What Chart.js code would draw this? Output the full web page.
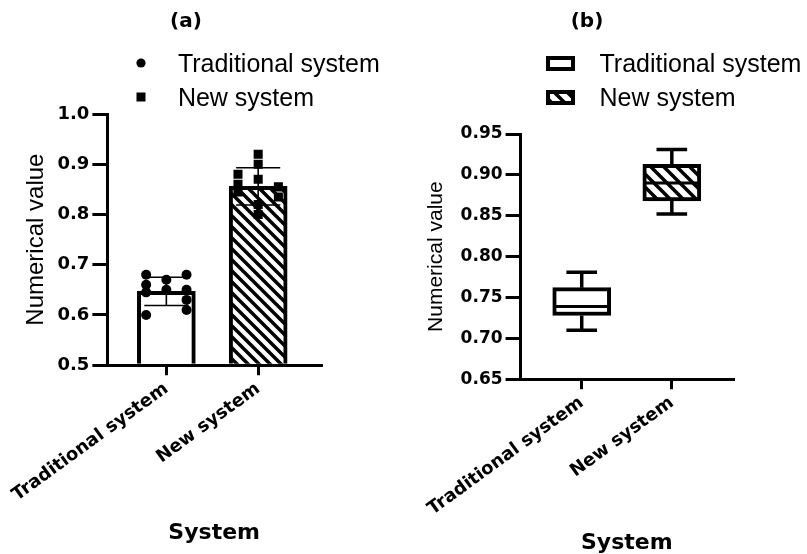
<!DOCTYPE html>
<html>
<head>
<meta charset="utf-8">
<script src="https://cdn.jsdelivr.net/npm/chart.js@4.4.1/dist/chart.umd.min.js"></script>
<style>
  html, body { margin: 0; padding: 0; background: #fff; overflow: hidden; }
  #page { position: relative; width: 807px; height: 554px; overflow: hidden; }
  canvas.plot { position: absolute; top: 0; }
  #chartA { left: -28px; }
  #chartB { left: 367px; }
  .panel-title {
    position: absolute; top: 20px; transform: translate(-50%, -50%);
    font: bold 20px 'DejaVu Sans', sans-serif; color: #000; white-space: nowrap;
  }
  ul.legend {
    position: absolute; top: 46px; margin: 0; padding: 0; list-style: none;
    font: 25px 'Liberation Sans', Arial, sans-serif; color: #000; white-space: nowrap;
  }
  ul.legend li { display: flex; align-items: center; height: 34px; }
  ul.legend .mark { display: flex; justify-content: center; align-items: center; margin-right: 12.5px; }
</style>
</head>
<body>
<div id="page">
  <canvas id="chartA" class="plot" width="428" height="554"></canvas>
  <canvas id="chartB" class="plot" width="440" height="554"></canvas>
  <div class="panel-title" style="left:186px">(a)</div>
  <div class="panel-title" style="left:587px">(b)</div>
  <ul id="legendA" class="legend"></ul>
  <ul id="legendB" class="legend"></ul>
</div>
<script>
const systems = ['Traditional system', 'New system'];

// (a) individual measurements (column = which side of the bar the dot sits on)
const traditionalValues = [0.68, 0.66, 0.645, 0.60, 0.67, 0.65, 0.68, 0.65, 0.63, 0.61];
const traditionalColumn = [-1, -1, -1, -1, 0, 0, 1, 1, 1, 1];
const newValues = [0.88, 0.86, 0.845, 0.92, 0.90, 0.87, 0.82, 0.80, 0.835, 0.855];
const newColumn = [-1, -1, -1, 0, 0, 0, 0, 0, 1, 1];
const barMeans = [0.647, 0.856];
const barSD = [0.028, 0.037];
const yTicksA = [0.5, 0.6, 0.7, 0.8, 0.9, 1.0];

// (b) box plot
const boxMin = [0.710, 0.852];
const boxQ1 = [0.728, 0.868];
const boxMedian = [0.739, 0.890];
const boxQ3 = [0.762, 0.913];
const boxMax = [0.781, 0.931];
const yTicksB = [0.65, 0.70, 0.75, 0.80, 0.85, 0.90, 0.95];

const SANS = "'Liberation Sans', Arial, sans-serif";
const BOLD = "'DejaVu Sans', sans-serif";
const SPREAD = 0.22;

Chart.defaults.color = '#000';
Chart.defaults.font.family = SANS;

function hatchPattern(size, width) {
  const tile = document.createElement('canvas');
  tile.width = tile.height = size;
  const g = tile.getContext('2d');
  g.fillStyle = '#fff';
  g.fillRect(0, 0, size, size);
  g.strokeStyle = '#000';
  g.lineWidth = width;
  g.beginPath();
  g.moveTo(-width, -width); g.lineTo(size + width, size + width);
  g.moveTo(-width, size - width); g.lineTo(width, size + width);
  g.moveTo(size - width, -width); g.lineTo(size + width, width);
  g.stroke();
  return g.createPattern(tile, 'repeat');
}

function icon(w, h, draw) {
  const c = document.createElement('canvas');
  c.width = w;
  c.height = h;
  draw(c.getContext('2d'));
  return c;
}

const hatchA = hatchPattern(11, 3.5);
const hatchB = hatchPattern(13, 3.5);

const iconsA = [
  icon(12, 12, g => { g.fillStyle = '#000'; g.beginPath(); g.arc(6, 6, 4.6, 0, Math.PI * 2); g.fill(); }),
  icon(12, 12, g => { g.fillStyle = '#000'; g.fillRect(1.5, 1.5, 9, 9); }),
];
const iconsB = ['#fff', hatchB].map(fill => icon(40, 17, g => {
  g.fillStyle = fill;
  g.fillRect(10, 3, 25, 11);
  g.strokeStyle = '#000';
  g.lineWidth = 4;
  g.strokeRect(10, 3, 25, 11);
}));

// legend items are built by Chart.js (generateLabels) and rendered as an html list
const htmlLegend = {
  id: 'htmlLegend',
  afterUpdate(c, args, options) {
    const ul = document.getElementById(options.containerID);
    if (!ul) return;
    while (ul.firstChild) {
      ul.firstChild.remove();
    }
    ul.style.left = (c.canvas.offsetLeft + c.chartArea.left + 9) + 'px';
    const items = c.options.plugins.legend.labels.generateLabels(c);
    items.forEach((item) => {
      const li = document.createElement('li');
      const mark = document.createElement('span');
      mark.className = 'mark';
      mark.style.width = options.markWidth + 'px';
      mark.appendChild(item.pointStyle);
      const label = document.createElement('span');
      label.appendChild(document.createTextNode(item.text));
      li.appendChild(mark);
      li.appendChild(label);
      ul.appendChild(li);
    });
  },
};

function legendOpts(icons) {
  return {
    display: false,
    labels: {
      generateLabels: () => systems.map((name, i) => ({ text: name, pointStyle: icons[i], hidden: false, datasetIndex: i })),
    },
  };
}

function yAxis(ticks, digits, tickSize, titleSize, titlePad) {
  return {
    min: ticks[0],
    max: ticks[ticks.length - 1],
    afterBuildTicks: (s) => { s.ticks = ticks.map(v => ({ value: v })); },
    ticks: { callback: (v) => v.toFixed(digits), font: { family: BOLD, size: tickSize, weight: 'bold' }, padding: 3 },
    grid: { drawOnChartArea: false, tickLength: 15, color: '#000', lineWidth: 3 },
    border: { color: '#000', width: 3 },
    title: { display: true, text: 'Numerical value', font: { family: SANS, size: titleSize }, padding: { top: 0, bottom: titlePad } },
  };
}

function xAxis(min, max, titlePad) {
  return {
    type: 'linear',
    min: min,
    max: max,
    offset: false,
    afterBuildTicks: (s) => { s.ticks = systems.map((_, i) => ({ value: i })); },
    ticks: {
      callback: (v) => systems[v], autoSkip: false, minRotation: 36, maxRotation: 36,
      font: { family: BOLD, size: 18, weight: 'bold' }, padding: 3,
    },
    grid: { offset: false, drawOnChartArea: false, tickLength: 10, color: '#000', lineWidth: 3 },
    border: { color: '#000', width: 3 },
    title: {
      display: true, text: 'System',
      font: { family: BOLD, size: 22, weight: 'bold', lineHeight: 1 },
      padding: { top: titlePad, bottom: 0 },
    },
  };
}

// mean +/- SD drawn right after the bars, under the dots
const errorBars = {
  id: 'errorBars',
  afterDatasetDraw(chart, args) {
    if (args.index !== 0) return;
    const { ctx, scales: { x, y } } = chart;
    ctx.save();
    ctx.strokeStyle = '#000';
    ctx.lineWidth = 1.6;
    barMeans.forEach((m, i) => {
      const cx = x.getPixelForValue(i);
      const hw = x.getPixelForValue(i + 0.24) - cx;
      const top = y.getPixelForValue(m + barSD[i]);
      const bot = y.getPixelForValue(m - barSD[i]);
      ctx.beginPath();
      ctx.moveTo(cx, top); ctx.lineTo(cx, bot);
      ctx.moveTo(cx - hw, top); ctx.lineTo(cx + hw, top);
      ctx.moveTo(cx - hw, bot); ctx.lineTo(cx + hw, bot);
      ctx.stroke();
    });
    ctx.restore();
  },
};

const boxWhiskers = {
  id: 'boxWhiskers',
  afterDatasetsDraw(chart) {
    const { ctx, scales: { x, y } } = chart;
    const meta = chart.getDatasetMeta(0);
    ctx.save();
    ctx.strokeStyle = '#000';
    systems.forEach((_, i) => {
      const cx = x.getPixelForValue(i);
      const cap = x.getPixelForValue(i + 0.17) - cx;
      const half = meta.data[i].width / 2;
      ctx.lineWidth = 3.5;
      ctx.beginPath();
      ctx.moveTo(cx, y.getPixelForValue(boxMax[i])); ctx.lineTo(cx, y.getPixelForValue(boxQ3[i]));
      ctx.moveTo(cx, y.getPixelForValue(boxQ1[i])); ctx.lineTo(cx, y.getPixelForValue(boxMin[i]));
      ctx.moveTo(cx - cap, y.getPixelForValue(boxMax[i])); ctx.lineTo(cx + cap, y.getPixelForValue(boxMax[i]));
      ctx.moveTo(cx - cap, y.getPixelForValue(boxMin[i])); ctx.lineTo(cx + cap, y.getPixelForValue(boxMin[i]));
      ctx.stroke();
      ctx.lineWidth = 3;
      ctx.beginPath();
      ctx.moveTo(cx - half + 3, y.getPixelForValue(boxMedian[i]));
      ctx.lineTo(cx + half - 3, y.getPixelForValue(boxMedian[i]));
      ctx.stroke();
    });
    ctx.restore();
  },
};

new Chart(document.getElementById('chartA'), {
  type: 'bar',
  data: {
    datasets: [
      {
        type: 'bar',
        label: 'Mean',
        data: systems.map((_, i) => ({ x: i, y: barMeans[i] })),
        backgroundColor: ['#fff', hatchA],
        borderColor: '#000',
        borderWidth: 4,
        barThickness: 58,
        base: 0.5,
        order: 2,
      },
      {
        type: 'scatter',
        label: systems[0],
        data: traditionalValues.map((v, k) => ({ x: 0 + traditionalColumn[k] * SPREAD, y: v })),
        pointStyle: 'circle',
        pointRadius: 5,
        backgroundColor: '#000',
        borderWidth: 0,
        order: 1,
      },
      {
        type: 'scatter',
        label: systems[1],
        data: newValues.map((v, k) => ({ x: 1 + newColumn[k] * SPREAD, y: v })),
        pointStyle: 'rect',
        pointRadius: 6.4,
        backgroundColor: '#000',
        borderWidth: 0,
        order: 1,
      },
    ],
  },
  options: {
    responsive: false,
    animation: false,
    events: [],
    layout: { padding: { top: 114, left: 50, right: 79, bottom: 10 } },
    scales: {
      x: xAxis(-0.642, 1.684, 13),
      y: yAxis(yTicksA, 1, 18, 24, 3.7),
    },
    plugins: {
      legend: legendOpts(iconsA),
      htmlLegend: { containerID: 'legendA', markWidth: 49 },
      tooltip: { enabled: false },
    },
  },
  plugins: [errorBars, htmlLegend],
});

new Chart(document.getElementById('chartB'), {
  type: 'bar',
  data: {
    datasets: [
      {
        label: 'Box',
        data: systems.map((_, i) => ({ x: i, y: [boxQ1[i], boxQ3[i]] })),
        backgroundColor: ['#fff', hatchB],
        borderColor: '#000',
        borderWidth: 4,
        borderSkipped: false,
        barThickness: 58,
      },
    ],
  },
  options: {
    responsive: false,
    animation: false,
    events: [],
    layout: { padding: { top: 134, left: 57, right: 74, bottom: 0 } },
    scales: {
      x: xAxis(-0.679, 1.679, 9),
      y: yAxis(yTicksB, 2, 17, 21, 8.4),
    },
    plugins: {
      legend: legendOpts(iconsB),
      htmlLegend: { containerID: 'legendB', markWidth: 57.5 },
      tooltip: { enabled: false },
    },
  },
  plugins: [boxWhiskers, htmlLegend],
});
</script>
</body>
</html>
